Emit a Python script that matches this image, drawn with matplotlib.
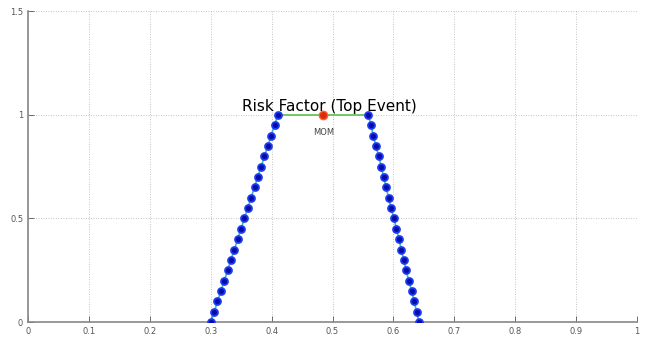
import matplotlib
matplotlib.use("Agg")
import matplotlib.pyplot as plt

# membership levels (alpha cuts)
mu = [0.00, 0.05, 0.10, 0.15, 0.20, 0.25, 0.30, 0.35, 0.40, 0.45, 0.50,
      0.55, 0.60, 0.65, 0.70, 0.75, 0.80, 0.85, 0.90, 0.95, 1.00]
x_left = [0.300, 0.306, 0.311, 0.317, 0.322, 0.328, 0.333, 0.339, 0.344, 0.350, 0.355,
          0.361, 0.366, 0.372, 0.377, 0.383, 0.388, 0.394, 0.399, 0.405, 0.410]
x_right = [0.642, 0.638, 0.634, 0.630, 0.625, 0.621, 0.617, 0.613, 0.609, 0.605, 0.601,
           0.596, 0.592, 0.588, 0.584, 0.580, 0.576, 0.571, 0.567, 0.563, 0.559]
top_x = [0.410, 0.559]
top_y = [1.0, 1.0]
mom_x = 0.484
mom_y = 1.0

xticks = [0, 0.1, 0.2, 0.3, 0.4, 0.5, 0.6, 0.7, 0.8, 0.9, 1]
xlabels = ["0", "0.1", "0.2", "0.3", "0.4", "0.5", "0.6", "0.7", "0.8", "0.9", "1"]
yticks = [0, 0.5, 1, 1.5]
ylabels = ["0", "0.5", "1", "1.5"]

fig = plt.figure(figsize=(6.52, 3.38), dpi=100)
ax = fig.add_axes([0.043, 0.047, 0.934, 0.920])

ax.plot(top_x, top_y, color="#5cc04a", lw=1.2, zorder=2)
for xs in (x_left, x_right):
    ax.plot(xs, mu, color="#3cb8c0", lw=1.2, marker="o", ms=5,
            mfc="#0a0aa8", mec="#1a3cf0", mew=1.3, zorder=3)
ax.plot([mom_x], [mom_y], "o", ms=6, mfc="#e02818", mec="#f06a2a", mew=1, zorder=4)

ax.text(0.495, 1.02, "Risk Factor (Top Event)", ha="center", va="baseline",
        fontsize=11, color="black", zorder=5)
ax.text(mom_x + 0.001, 0.915, "MOM", ha="center", va="center", fontsize=6, color="#444444")

ax.set_xlim(0, 1)
ax.set_ylim(0, 1.5)
ax.set_xticks(xticks)
ax.set_xticklabels(xlabels)
ax.set_yticks(yticks)
ax.set_yticklabels(ylabels)
ax.tick_params(direction="in", labelsize=6, colors="#555555", length=4, width=0.6)
ax.grid(True, linestyle=(0, (1, 2)), color="#b0b0b0", lw=0.6)
for s in ("top", "right"):
    ax.spines[s].set_visible(False)
for s in ("left", "bottom"):
    ax.spines[s].set_color("#888888")
    ax.spines[s].set_linewidth(1.2)

fig.savefig("out.png", dpi=100)
